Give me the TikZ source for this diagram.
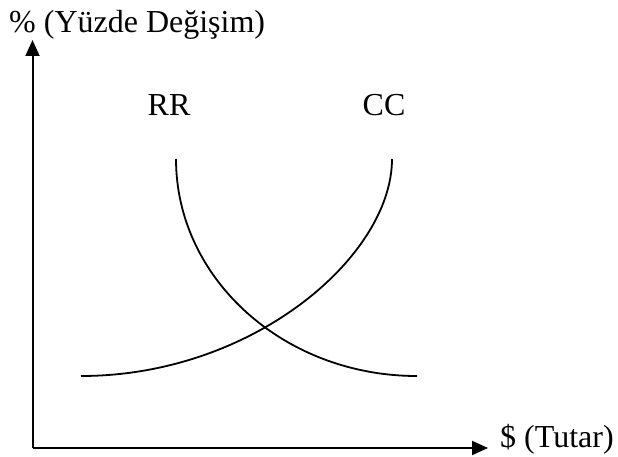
\documentclass[tikz,border=0pt]{standalone}
\usepackage{fontspec}
\setmainfont{Liberation Serif}
\usetikzlibrary{arrows.meta}
\begin{document}
\begin{tikzpicture}[x=1pt,y=-1pt,
  lbl/.style={inner sep=0pt,font=\fontsize{32}{38}\selectfont},
  axis/.style={line width=2pt,-{Triangle[length=16pt,width=14pt]}},
  curve/.style={line width=1.8pt}]
\useasboundingbox (0,0) rectangle (618,457);
\coordinate (O) at (32.5,448);
\coordinate (ytip) at (32.5,40);
\coordinate (xtip) at (488,448);
\draw[axis] (O) -- (ytip);
\draw[axis] (O) -- (xtip);
\node[lbl,anchor=base west] (ylab) at (9,33) {\% (Yüzde Değişim)};
\node[lbl,anchor=base west] (xlab) at (500,447) {\$ (Tutar)};
\node[lbl,anchor=base] (rr) at (169,116) {RR};
\node[lbl,anchor=base] (cc) at (384,116) {CC};
\coordinate (rrs) at (176,159);
\coordinate (rre) at (417,376);
\coordinate (ccs) at (81,376);
\coordinate (cce) at (392,159);
\draw[curve] (rrs) .. controls (176,278.8) and (283.9,376) .. (rre);
\draw[curve] (ccs) .. controls (252.8,376) and (392,256.2) .. (cce);
\end{tikzpicture}
\end{document}
